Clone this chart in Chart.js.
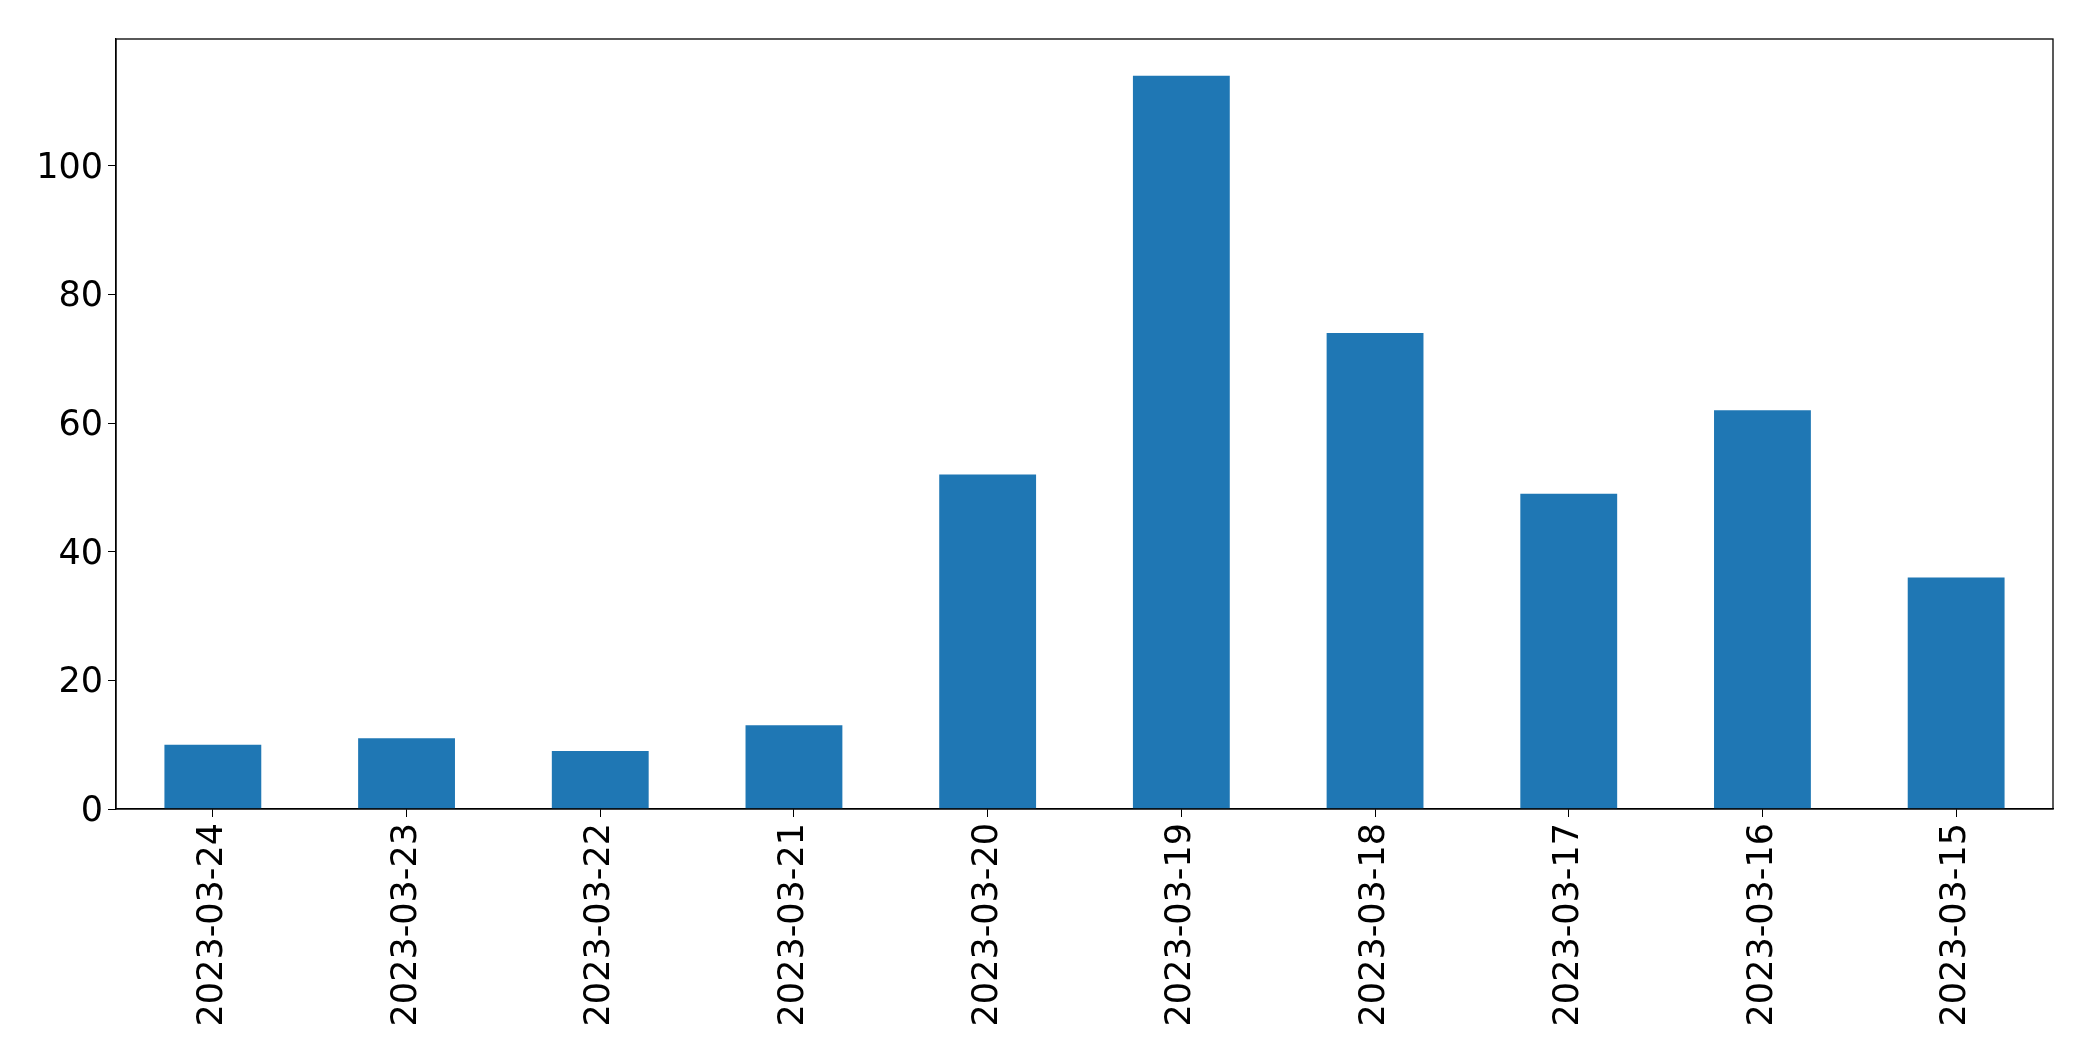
<!DOCTYPE html>
<html>
<head>
<meta charset="utf-8">
<script src="https://cdn.jsdelivr.net/npm/chart.js@4.4.0/dist/chart.umd.min.js"></script>
<style>
  html, body { margin: 0; padding: 0; background: #fff; }
  #wrap { width: 2093px; height: 1061px; }
</style>
</head>
<body>
<div id="wrap"><canvas id="chart" width="2093" height="1061"></canvas></div>
<script>
const dates = ['2023-03-24', '2023-03-23', '2023-03-22', '2023-03-21', '2023-03-20',
               '2023-03-19', '2023-03-18', '2023-03-17', '2023-03-16', '2023-03-15'];
const counts = [10, 11, 9, 13, 52, 114, 74, 49, 62, 36];
const yTicks = [0, 20, 40, 60, 80, 100];

// box round the plot area, like the matplotlib frame
const frame = {
    id: 'frame',
    afterDraw(chart) {
        const a = chart.chartArea, ctx = chart.ctx;
        ctx.save();
        ctx.strokeStyle = '#000';
        ctx.lineWidth = 1.3;
        ctx.strokeRect(a.left, a.top, a.right - a.left, a.bottom - a.top);
        ctx.restore();
    }
};

const font = { family: '"DejaVu Sans", sans-serif', size: 35 };

new Chart(document.getElementById('chart'), {
    type: 'bar',
    data: {
        labels: dates,
        datasets: [{
            data: counts,
            backgroundColor: '#1f77b4',
            categoryPercentage: 1.0,
            barPercentage: 0.5
        }]
    },
    options: {
        responsive: false,
        animation: false,
        layout: { padding: { top: 39, right: 40, left: 0, bottom: 0 } },
        plugins: { legend: { display: false }, tooltip: { enabled: false } },
        scales: {
            x: {
                offset: true,
                grid: { drawOnChartArea: false, tickLength: 8, color: '#000', offset: false },
                border: { color: '#000', width: 1.3 },
                ticks: { color: '#000', font: font, minRotation: 90, maxRotation: 90, padding: 6, autoSkip: false },
                afterFit(scale) { scale.height = 252; }
            },
            y: {
                min: 0,
                max: 119.7,
                afterBuildTicks(scale) { scale.ticks = yTicks.map(v => ({ value: v })); },
                grid: { drawOnChartArea: false, tickLength: 8, color: '#000' },
                border: { color: '#000', width: 1.3 },
                ticks: { color: '#000', font: font, padding: 5, labelOffset: 3 },
                afterFit(scale) { scale.width = 116; }
            }
        }
    },
    plugins: [frame]
});
</script>
</body>
</html>
